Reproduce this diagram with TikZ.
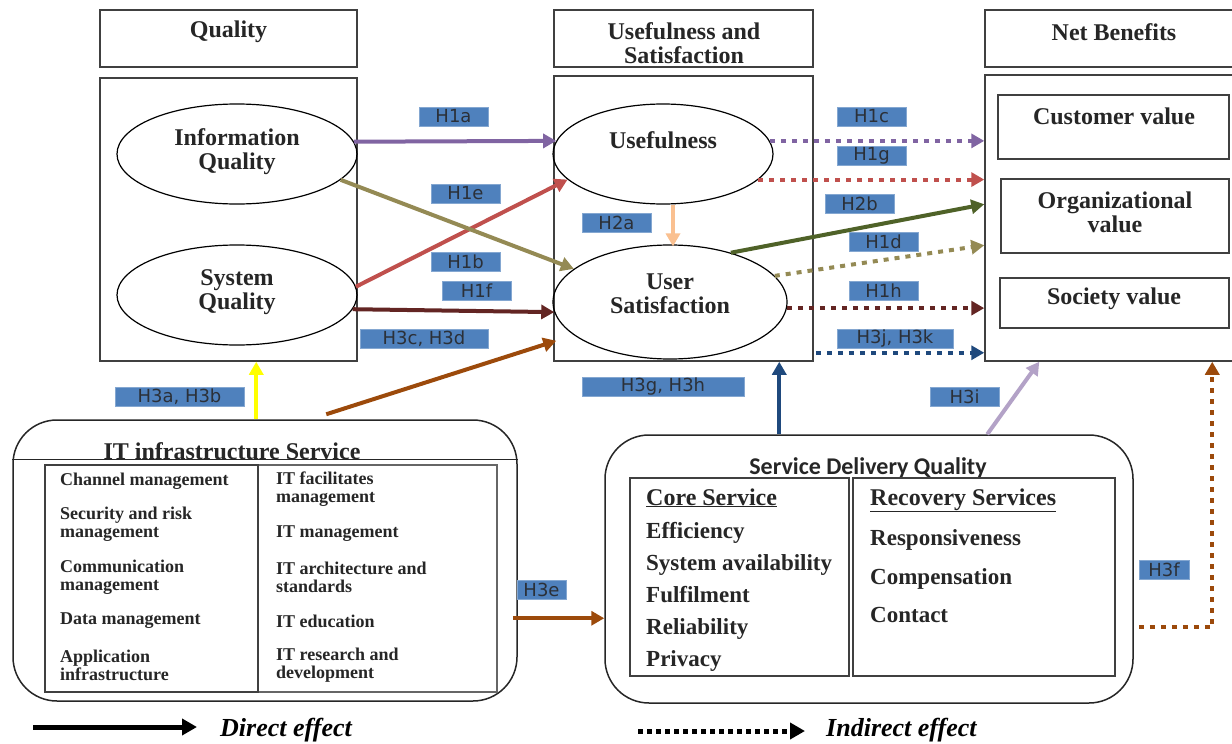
\documentclass[tikz,border=0pt]{standalone}
\usepackage{fontspec}
\setmainfont{Liberation Serif}
\newfontfamily\lblfont{DejaVu Sans}
\newfontfamily\calfont{Carlito}
\usetikzlibrary{arrows.meta,shapes.geometric,calc}
\definecolor{tcol}{HTML}{262626}
\definecolor{bcol}{HTML}{404040}
\definecolor{lblue}{HTML}{4F81BD}
\definecolor{ltxt}{HTML}{2B3038}
\definecolor{cpurple}{HTML}{8064A2}
\definecolor{colive}{HTML}{948A54}
\definecolor{cred}{HTML}{C0504D}
\definecolor{cmaroon}{HTML}{632523}
\definecolor{cbrown}{HTML}{9C4A0B}
\definecolor{cpeach}{HTML}{FAC090}
\definecolor{cgreen}{HTML}{4F6228}
\definecolor{cdblue}{HTML}{1F497D}
\definecolor{clav}{HTML}{B3A2C7}
\definecolor{cyellow}{HTML}{FFFF00}
\newcommand{\thickul}[1]{\underline{#1}}
\begin{document}
\begin{tikzpicture}[x=1pt,y=-1pt,
  txt/.style={text=tcol, font=\bfseries\fontsize{24}{24}\selectfont, align=center, inner sep=0pt},
  stxt/.style={text=tcol, font=\bfseries\fontsize{18}{18}\selectfont, align=left, inner sep=0pt, anchor=west},
  itm/.style={text=tcol, font=\bfseries\fontsize{23}{23}\selectfont, inner sep=0pt, anchor=base west},
  frame/.style={draw=bcol, line width=1.5pt, inner sep=0pt},
  ell/.style={draw=black, line width=1.2pt, ellipse, inner sep=0pt},
  rbox/.style={draw=black!85, line width=1.5pt, rounded corners=44pt, inner sep=0pt},
  lbl/.style={fill=lblue, draw=lblue!70!white, line width=0.8pt, text=ltxt, font=\lblfont\fontsize{18}{18}\selectfont, inner sep=0pt, minimum height=19pt},
  arr/.style={line width=4pt, -{Triangle[length=13pt,width=14pt]}},
  dotl/.style={dash pattern=on 5pt off 6pt},
]
\useasboundingbox[fill=white] (0,0) rectangle (1232,744);

% header boxes
\node[frame, minimum width=257pt, minimum height=57pt] (hq) at (228.5,38.5) {};
\node[txt] (hqt) at (228.5,32) {Quality};
\node[frame, minimum width=259pt, minimum height=57pt] (hu) at (683.5,38.5) {};
\node[txt] (hut) at (684,43) {Usefulness and\\Satisfaction};
\node[frame, minimum width=248pt, minimum height=57pt] (hn) at (1109,38.5) {};
\node[txt] (hnt) at (1114,32) {Net Benefits};

% big boxes
\node[frame, minimum width=257pt, minimum height=283pt] (qb) at (228.5,219.5) {};
\node[frame, minimum width=259pt, minimum height=285pt] (mb) at (683.5,218.5) {};
\node[frame, minimum width=248pt, minimum height=286pt] (rb) at (1109,218) {};

% ellipses
\node[ell, minimum width=240pt, minimum height=100pt] (iq) at (237,154) {};
\node[txt] (iqt) at (237,152) {Information\\Quality};
\node[ell, minimum width=240pt, minimum height=100pt] (sq) at (237,295) {};
\node[txt] (sqt) at (237,292) {System\\Quality};
\node[ell, minimum width=220pt, minimum height=100pt] (use) at (663,154) {};
\node[txt] (uset) at (663,140) {Usefulness};
\node[ell, minimum width=234pt, minimum height=114pt] (us) at (670,302) {};
\node[txt] (ust) at (670,294) {User\\Satisfaction};

% net benefit boxes
\node[frame, minimum width=231pt, minimum height=64pt] (cv) at (1113.5,127) {};
\node[txt] (cvt) at (1114,116) {Customer value};
\node[frame, minimum width=228pt, minimum height=74pt] (ov) at (1115,216) {};
\node[txt] (ovt) at (1115,212) {Organizational\\value};
\node[frame, minimum width=229pt, minimum height=50pt] (sv) at (1114.5,303) {};
\node[txt] (svt) at (1114,299) {Society value};

% IT infrastructure box
\node[rbox, minimum width=504pt, minimum height=281pt] (itb) at (265,560.5) {};
\draw[draw=black!85, line width=1.5pt] ($(itb.north west)+(0,40)$) -- ($(itb.north east)+(0,40)$);
\node[txt, anchor=base] (itbt) at (232,459) {IT infrastructure Service};
\node[draw=black!60!white, line width=1.2pt, minimum width=239pt, minimum height=227pt] (itr) at (377.5,578.5) {};
\node[frame, minimum width=213pt, minimum height=227pt] (itl) at (151.5,578.5) {};
\node[stxt] at (60,481) {Channel management};
\node[stxt] at (60,524.5) {Security and risk\\management};
\node[stxt] at (60,577) {Communication\\management};
\node[stxt] at (60,621) {Data management};
\node[stxt] at (60,665) {Application\\infrastructure};
\node[stxt] at (276,489.5) {IT facilitates\\management};
\node[stxt] at (276,534) {IT management};
\node[stxt] at (276,577) {IT architecture and\\standards};
\node[stxt] at (276,621) {IT education};
\node[stxt] at (276,665) {IT research and\\development};

% Service delivery quality box
\node[rbox, minimum width=528pt, minimum height=268pt] (sdq) at (869,569) {};
\node[text=tcol, font=\calfont\bfseries\fontsize{24}{24}\selectfont, inner sep=0pt] (sdqt) at (868,468) {Service Delivery Quality};
\node[frame, minimum width=219pt, minimum height=198pt] (cl) at (739.5,577) {};
\node[frame, minimum width=262pt, minimum height=198pt] (cr) at (984,577) {};
\node[itm, font=\bfseries\fontsize{24}{24}\selectfont] at (646,505) {\thickul{Core Service}};
\node[itm] at (646,538) {Efficiency};
\node[itm] at (646,570) {System availability};
\node[itm] at (646,602) {Fulfilment};
\node[itm] at (646,634) {Reliability};
\node[itm] at (646,666) {Privacy};
\node[itm, font=\bfseries\fontsize{24}{24}\selectfont] at (870,505) {\thickul{Recovery Services}};
\node[itm] at (870,545) {Responsiveness};
\node[itm] at (870,584) {Compensation};
\node[itm] at (870,622) {Contact};

% connectors: left to middle
\draw[arr, cpurple] (iq.6) -- (use.173);
\draw[arr, cred] (sq.4) -- (use.195);
\draw[arr, colive] (iq.-14) -- (us.161);
\draw[arr, cmaroon] (sq.-7) -- (us.185);
\coordinate (h3cs) at ($(itb.north west)+(314,-5)$);
\draw[arr, cbrown] (h3cs) -- ($(mb.south west)+(3,-21)$);
\draw[arr, cpeach] ($(use.south)+(10,0)$) -- ($(us.north)+(3,2)$);
% middle to right
\draw[arr, dotl, cpurple] (use.7) -- (use.7 -| rb.west);
\draw[arr, dotl, cred] (use.-15) -- (use.-15 -| rb.west);
\draw[arr, cgreen] (us.39) -- ($(rb.north west)+(0,130)$);
\draw[arr, dotl, colive] (us.14) -- ($(rb.north west)+(0,171)$);
\draw[arr, dotl, cmaroon] (us.-3) -- (us.-3 -| rb.west);
\coordinate (h3js) at ($(mb.south east)+(2,-9)$);
\draw[arr, dotl, cdblue] (h3js) -- (h3js -| rb.west);
% bottom connectors
\coordinate (h3gs) at ($(sdq.north west)+(175,0)$);
\draw[arr, cdblue] (h3gs) -- (h3gs |- mb.south);
\draw[arr, clav] ($(sdq.north west)+(383,0)$) -- ($(rb.south west)+(55,0)$);
\coordinate (h3as) at ($(itb.north west)+(244,0)$);
\draw[arr, cyellow] (h3as) -- (h3as |- qb.south);
\coordinate (h3es) at ($(itb.north east)+(-5,199)$);
\draw[arr, cbrown] (h3es) -- (h3es -| sdq.west);
\draw[arr, dotl, cbrown] ($(sdq.north east)+(5,193)$) -| ($(rb.south west)+(228,0)$);

% labels
\node[lbl, minimum width=69pt] (l1a) at (453.5,116.5) {H1a};
\node[lbl, minimum width=69pt] (l1e) at (465.5,193.5) {H1e};
\node[lbl, minimum width=69pt] (l1b) at (465.5,261.5) {H1b};
\node[lbl, minimum width=69pt] (l1f) at (476.5,290.5) {H1f};
\node[lbl, minimum width=128pt] (l3c) at (424,338.5) {H3c, H3d};
\node[lbl, minimum width=69pt] (l2a) at (616.5,222.5) {H2a};
\node[lbl, minimum width=162pt] (l3g) at (663,386.5) {H3g, H3h};
\node[lbl, minimum width=69pt] (l1c) at (871.5,116.5) {H1c};
\node[lbl, minimum width=69pt] (l1g) at (871.5,155.5) {H1g};
\node[lbl, minimum width=69pt] (l2b) at (859.5,203.5) {H2b};
\node[lbl, minimum width=69pt] (l1d) at (883.5,241.5) {H1d};
\node[lbl, minimum width=69pt] (l1h) at (883.5,290.5) {H1h};
\node[lbl, minimum width=116pt] (l3j) at (895,338.5) {H3j, H3k};
\node[lbl, minimum width=69pt] (l3i) at (964.5,396.5) {H3i};
\node[lbl, minimum width=129pt] (l3a) at (179.5,396.5) {H3a, H3b};
\node[lbl, minimum width=49pt] (l3e) at (541.5,589.5) {H3e};
\node[lbl, minimum width=50pt] (l3f) at (1164,569.5) {H3f};

% legend
\coordinate (lda) at (33,727);
\coordinate (ldb) at (197,727);
\draw[line width=5pt, -{Triangle[length=15pt,width=16pt]}] (lda) -- (ldb);
\node[anchor=west, inner sep=0pt, font=\bfseries\itshape\fontsize{26}{26}\selectfont] (ldt) at (220,730) {Direct effect};
\coordinate (lia) at (638,731);
\coordinate (lib) at (805,731);
\draw[line width=5pt, dash pattern=on 5pt off 4pt, -{Triangle[length=15pt,width=16pt]}] (lia) -- (lib);
\node[anchor=west, inner sep=0pt, font=\bfseries\itshape\fontsize{26}{26}\selectfont] (lit) at (826,730) {Indirect effect};
\end{tikzpicture}
\end{document}
